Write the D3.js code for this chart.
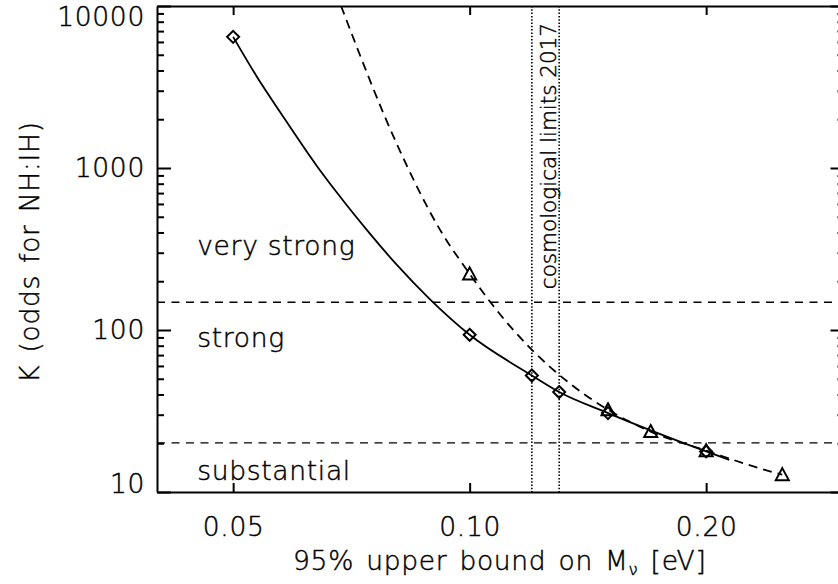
<!DOCTYPE html>
<html>
<head>
<meta charset="utf-8">
<script src="https://cdn.jsdelivr.net/npm/d3@7"></script>
<style>
body { margin: 0; background: #fff; }
svg { display: block; }
svg text { stroke: #000; stroke-width: 0.45px; }
</style>
</head>
<body>
<div id="chart"></div>
<script>
// diamonds, solid curve
var diamondM = [0.05, 0.10, 0.12, 0.13, 0.15, 0.20];
var diamondK = [6450, 93.4, 52.4, 41.4, 30.7, 17.8];
// triangles, dashed curve
var triangleM = [0.10, 0.15, 0.17, 0.20, 0.25];
var triangleK = [222, 32.2, 23.6, 18.0, 12.8];
// the two smooth curves
var solidM = [0.05, 0.0536, 0.0574, 0.0639, 0.0678, 0.0747, 0.0808, 0.0891, 0.10, 0.12, 0.13, 0.15, 0.20, 0.214];
var solidK = [6450, 3660, 2210, 1030, 703, 392, 252, 154, 93.4, 52.4, 41.4, 30.7, 17.8, 15.8];
var dashedM = [0.0686, 0.0807, 0.0917, 0.10, 0.1061, 0.12, 0.13, 0.15, 0.17, 0.20, 0.2375, 0.25];
var dashedK = [10000, 1422, 415, 222, 150, 75.5, 52.9, 32.2, 23.6, 18.0, 13.7, 12.8];
// Jeffreys scale
var levelK = [20.1, 148.4];
var levelNames = ["substantial", "strong", "very strong"];
var levelNameK = [11.8, 78, 291];
var levelNameM = 0.045;
// cosmological limits 2017
var cosmoM = [0.12, 0.13];
var cosmoText = "cosmological limits 2017";
// axes
var xTicks = [0.05, 0.10, 0.20];
var yTicks = [10, 100, 1000, 10000];
var xTitle = "95% upper bound on M";
var xTitleSub = "ν";
var xTitleEnd = " [eV]";
var yTitle = "K (odds for NH:IH)";

var W = 838, H = 584;
var box = {left: 157, right: 844.5, top: 6, bottom: 492};
var font = "'DejaVu Sans', sans-serif";
var fw = 200;
var fs = 26.5;

var x = d3.scaleLog().domain([0.04, 0.3]).range([box.left, box.right]);
var y = d3.scaleLog().domain([10, 10000]).range([box.bottom, box.top]);

var svg = d3.select("#chart").append("svg")
    .attr("width", W)
    .attr("height", H);

svg.append("rect").attr("width", W).attr("height", H).attr("fill", "#fff");

svg.append("clipPath").attr("id", "plotclip")
    .append("rect")
    .attr("x", box.left).attr("y", box.top)
    .attr("width", box.right - box.left).attr("height", box.bottom - box.top);

// Jeffreys thresholds
svg.selectAll(".level")
    .data(levelK)
    .enter().append("line")
    .attr("x1", box.left).attr("x2", box.right)
    .attr("y1", function(d) { return y(d); })
    .attr("y2", function(d) { return y(d); })
    .attr("stroke", "#000")
    .attr("stroke-width", 1.4)
    .attr("stroke-dasharray", "8,6.5");

// cosmological limits
svg.selectAll(".cosmo")
    .data(cosmoM)
    .enter().append("line")
    .attr("x1", function(d) { return x(d); })
    .attr("x2", function(d) { return x(d); })
    .attr("y1", box.top).attr("y2", box.bottom)
    .attr("stroke", "#000")
    .attr("stroke-width", 1.6)
    .attr("stroke-dasharray", "1.5,1.8");

var line = d3.line()
    .x(function(d) { return x(d[0]); })
    .y(function(d) { return y(d[1]); })
    .curve(d3.curveMonotoneX);

var plot = svg.append("g").attr("clip-path", "url(#plotclip)");

plot.append("path")
    .attr("d", line(d3.zip(solidM, solidK)))
    .attr("fill", "none")
    .attr("stroke", "#000")
    .attr("stroke-width", 1.8);

plot.append("path")
    .attr("d", line(d3.zip(dashedM, dashedK)))
    .attr("fill", "none")
    .attr("stroke", "#000")
    .attr("stroke-width", 1.8)
    .attr("stroke-dasharray", "9,6");

// markers
plot.selectAll(".diamond")
    .data(d3.zip(diamondM, diamondK))
    .enter().append("path")
    .attr("transform", function(d) { return "translate(" + x(d[0]) + "," + y(d[1]) + ")"; })
    .attr("d", "M0,-6L6,0L0,6L-6,0Z")
    .attr("fill", "none")
    .attr("stroke", "#000")
    .attr("stroke-width", 2);

plot.selectAll(".triangle")
    .data(d3.zip(triangleM, triangleK))
    .enter().append("path")
    .attr("transform", function(d) { return "translate(" + x(d[0]) + "," + y(d[1]) + ")"; })
    .attr("d", "M0,-6.5L6.5,5.5L-6.5,5.5Z")
    .attr("fill", "none")
    .attr("stroke", "#000")
    .attr("stroke-width", 2);

// axes: box with inward ticks on all sides
var yMinor = y.ticks().filter(function(d) { return yTicks.indexOf(d) < 0; });

function styleAxis(g, labels) {
    g.attr("font-family", font).attr("font-size", fs).attr("font-weight", fw)
        .attr("letter-spacing", 0.7);
    g.selectAll("path.domain").attr("stroke-width", 2);
    g.selectAll(".tick line").attr("stroke-width", 2);
    if (!labels) g.selectAll("text").remove();
}

svg.append("g")
    .attr("transform", "translate(0," + box.bottom + ")")
    .call(d3.axisBottom(x).tickValues(xTicks).tickFormat(d3.format(".2f"))
        .tickSizeInner(-9).tickSizeOuter(0).tickPadding(25))
    .call(styleAxis, true);

svg.append("g")
    .attr("transform", "translate(0," + box.top + ")")
    .call(d3.axisTop(x).tickValues(xTicks).tickSizeInner(-9).tickSizeOuter(0))
    .call(styleAxis, false);

var left = svg.append("g")
    .attr("transform", "translate(" + box.left + ",0)")
    .call(d3.axisLeft(y).tickValues(yTicks).tickFormat(d3.format("d"))
        .tickSizeInner(-14).tickSizeOuter(0).tickPadding(12))
    .call(styleAxis, true);

// keep the end labels inside the axis span
left.selectAll(".tick text")
    .attr("y", function(d) {
        var p = y(d);
        var c = Math.max(box.top + 11.5, Math.min(box.bottom - 8, p));
        return c - p;
    });

svg.append("g")
    .attr("transform", "translate(" + box.left + ",0)")
    .call(d3.axisLeft(y).tickValues(yMinor).tickSizeInner(-7).tickSizeOuter(0))
    .call(styleAxis, false)
    .select("path.domain").remove();

svg.append("g")
    .attr("transform", "translate(" + box.right + ",0)")
    .call(d3.axisRight(y).tickValues(yTicks).tickSizeInner(-14).tickSizeOuter(0))
    .call(styleAxis, false);

svg.append("g")
    .attr("transform", "translate(" + box.right + ",0)")
    .call(d3.axisRight(y).tickValues(yMinor).tickSizeInner(-7).tickSizeOuter(0))
    .call(styleAxis, false)
    .select("path.domain").remove();

// axis titles
var xt = svg.append("text")
    .attr("x", (box.left + box.right) / 2 - 1)
    .attr("y", 570)
    .attr("text-anchor", "middle")
    .attr("font-family", font)
    .attr("font-weight", fw)
    .attr("font-size", fs)
    .attr("letter-spacing", 0.7)
    .attr("word-spacing", 3);
xt.append("tspan").text(xTitle);
xt.append("tspan").attr("font-size", fs * 0.62).attr("dy", 5).text(xTitleSub);
xt.append("tspan").attr("dy", -5).text(xTitleEnd);

svg.append("text")
    .attr("transform", "translate(39," + ((box.top + box.bottom) / 2 + 3) + ")rotate(-90)")
    .attr("text-anchor", "middle")
    .attr("font-family", font)
    .attr("font-weight", fw)
    .attr("font-size", fs)
    .attr("letter-spacing", 0.7)
    .attr("word-spacing", 3)
    .text(yTitle);

// Jeffreys labels
svg.selectAll(".levelname")
    .data(levelNames)
    .enter().append("text")
    .attr("x", x(levelNameM))
    .attr("y", function(d, i) { return y(levelNameK[i]); })
    .attr("font-family", font)
    .attr("font-weight", fw)
    .attr("font-size", fs)
    .attr("letter-spacing", 0.7)
    .text(function(d) { return d; });

// label between the dotted lines
svg.append("text")
    .attr("transform", "translate(" + (x(cosmoM[1]) - 3.5) + "," + (box.top + 17) + ")rotate(-90)")
    .attr("text-anchor", "end")
    .attr("font-family", font)
    .attr("font-weight", fw)
    .attr("font-size", 21.5)
    .text(cosmoText);
</script>
</body>
</html>
